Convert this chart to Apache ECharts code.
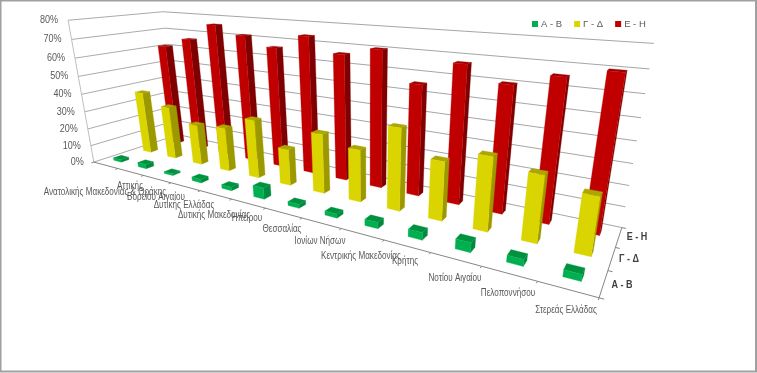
<!DOCTYPE html>
<html><head><meta charset="utf-8">
<style>html,body{margin:0;padding:0;background:#fff}#c{width:757px;height:373px}</style>
<script src="https://cdn.jsdelivr.net/npm/echarts@6/dist/echarts.min.js"></script>
</head><body><div id="c"></div>
<script>
const categories = ['Αττικής','Ανατολικής Μακεδονίας & Θράκης','Βορείου Αιγαίου','Δυτικής Ελλάδας','Δυτικής Μακεδονίας','Ηπείρου','Θεσσαλίας','Ιονίων Νήσων','Κεντρικής Μακεδονίας','Κρήτης','Νοτίου Αιγαίου','Πελοποννήσου','Στερεάς Ελλάδας'];
const seriesNames = ['Α - Β','Γ - Δ','Ε - Η'];
const valuesAB = [1.5,2.5,1,2,2,6,2,2,3,3.5,4.5,3,3];
const valuesGD = [36.5,30.5,23,24.5,32,19.5,31,26.5,40.5,28.5,34.5,30.5,26];
const valuesEH = [61,66.5,76,71.5,66.5,74,66.5,70.5,56,67.5,60.5,66,70];
const valueTicks = [0,10,20,30,40,50,60,70,80];

// layout
const labelCentres = [[130,186],[105,192],[156,197],[184,205],[214,215],[247,218],[282,229],[320,241],[361,256],[405,261],[455,278],[508,293],[566,310]];
const depthLabelCentres = [[622,285],[629,259],[637,237]];
const colours = [
 {front:'#00B050',side:'#008A3E',top:'#00913F'},
 {front:'#DAD500',side:'#9C9800',top:'#ABA600'},
 {front:'#C00000',side:'#7F0000',top:'#A00000'}];
const calib = [
 [0,0,0,94,161],[1,0,0,599,299],[1,1,0,622,227],[0,1,0,178,136],
 [0,0,1,68,21],[1,1,1,654,44],[0,1,1,163,11],[0,0,.5,81.5,94],[1,1,.5,637,141.3],[1,1,.25,629,184.3]];
const barW = 0.31, barD = 0.25;
const FONT = '"Liberation Sans"';

function solve(A,b){const n=b.length;for(let i=0;i<n;i++){let p=i;for(let r=i+1;r<n;r++)if(Math.abs(A[r][i])>Math.abs(A[p][i]))p=r;[A[i],A[p]]=[A[p],A[i]];[b[i],b[p]]=[b[p],b[i]];for(let r=i+1;r<n;r++){const f=A[r][i]/A[i][i];for(let c=i;c<n;c++)A[r][c]-=f*A[i][c];b[r]-=f*b[i];}}
 const x=new Array(n);for(let i=n-1;i>=0;i--){let s=b[i];for(let c=i+1;c<n;c++)s-=A[i][c]*x[c];x[i]=s/A[i][i];}return x;}
function fit(){const S=500,rows=[],rhs=[];calib.forEach(([u,v,w,px,py])=>{const X=px/S,Y=py/S;
 rows.push([u,v,w,1,0,0,0,0,-X*u,-X*v,-X*w]);rhs.push(X);rows.push([0,0,0,0,u,v,w,1,-Y*u,-Y*v,-Y*w]);rhs.push(Y);});
 const n=11,A=Array.from({length:n},()=>new Array(n).fill(0)),b=new Array(n).fill(0);
 rows.forEach((r,k)=>{for(let i=0;i<n;i++){b[i]+=r[i]*rhs[k];for(let j=0;j<n;j++)A[i][j]+=r[i]*r[j];}});
 const h=solve(A,b);return {h,S};}
const P=fit();
function proj(u,v,w){const h=P.h,d=h[8]*u+h[9]*v+h[10]*w+1;return [P.S*(h[0]*u+h[1]*v+h[2]*w+h[3])/d,P.S*(h[4]*u+h[5]*v+h[6]*w+h[7])/d];}

const gridBox = {left:100,top:50,width:520,height:240};
const n = categories.length;
function unit(api,i,val){const c=api.coord([i,val]);return [(c[0]-gridBox.left)/gridBox.width,(gridBox.top+gridBox.height-c[1])/gridBox.height];}

function barItem(depth){return function(params,api){
 const i=api.value(0),val=api.value(1);
 const [uc,w]=unit(api,i,val);
 const hw=barW/n/2,hd=barD/3/2,vc=(depth+.5)/3;
 const u0=uc-hw,u1=uc+hw,v0=vc-hd,v1=vc+hd;
 const col=colours[depth];
 const face=(pts,c)=>({type:'polygon',shape:{points:pts},style:{fill:c,stroke:c,lineWidth:.3}});
 return {type:'group',children:[
  face([proj(u1,v0,0),proj(u1,v1,0),proj(u1,v1,w),proj(u1,v0,w)],col.side),
  face([proj(u0,v0,w),proj(u1,v0,w),proj(u1,v1,w),proj(u0,v1,w)],col.top),
  face([proj(u0,v0,0),proj(u1,v0,0),proj(u1,v0,w),proj(u0,v0,w)],col.front)
 ]};};}
const valueSeriesData=[valuesAB,valuesGD,valuesEH];

const line=(a,b,c,lw)=>({type:'line',shape:{x1:a[0],y1:a[1],x2:b[0],y2:b[1]},style:{stroke:c,lineWidth:lw||1}});
const squeezed=(text,x,y,align,fill,font,sx)=>({type:'text',x:x,y:y,scaleX:sx,style:{text:text,x:0,y:0,align:align,verticalAlign:'middle',fill:fill,font:font}});
function frameItem(params,api){
 const t=api.value(1);
 const [,w]=unit(api,0,t);
 const kids=[line(proj(0,0,w),proj(0,1,w),'#ABABAB'),line(proj(0,1,w),proj(1,1,w),'#A6A6A6')];
 const p=proj(0,0,w);
 kids.push(squeezed(t+'%',p[0]-10,p[1],'right','#595959','11px '+FONT,.82));
 return {type:'group',children:kids};}
function floorItem(params,api){
 const kids=[line(proj(0,0,0),proj(0,0,1),'#BFBFBF'),line(proj(0,0,0),proj(1,0,0),'#868686'),line(proj(1,0,0),proj(1,1,0),'#868686')];
 for(let i=0;i<=n;i++){const a=proj(i/n,0,0),b=proj(i/n,-0.025,0);kids.push(line(a,b,'#868686'));}
 for(let j=0;j<=3;j++){const a=proj(1,j/3,0),b=proj(1.006,j/3,0);kids.push(line(a,b,'#868686'));}
 categories.forEach((c,i)=>kids.push(squeezed(c,labelCentres[i][0],labelCentres[i][1],'center','#595959','10px '+FONT,.81)));
 seriesNames.forEach((c,i)=>kids.push(squeezed(c,depthLabelCentres[i][0],depthLabelCentres[i][1],'center','#404040','bold 11px '+FONT,.82)));
 return {type:'group',children:kids};}

const chart=echarts.init(document.getElementById('c'),null,{renderer:'canvas'});
chart.setOption({
 animation:false,
 backgroundColor:'#fff',
 graphic:[{type:'rect',shape:{x:.5,y:.5,width:755.5,height:371},style:{fill:'none',stroke:'#A0A0A0',lineWidth:2},silent:true}],
 grid:{...gridBox,show:false},
 xAxis:{type:'category',data:categories,show:false},
 yAxis:{type:'value',min:0,max:80,interval:10,show:false},
 legend:{left:527,top:14,itemWidth:6,itemHeight:6,itemGap:12,icon:'rect',data:seriesNames,textStyle:{color:'#595959',fontSize:9.5,fontFamily:'Liberation Sans',padding:[0,0,0,-2]},selectedMode:false},
 series:[
  {type:'custom',name:'frame',z:1,silent:true,clip:false,renderItem:frameItem,encode:{x:0,y:1},data:valueTicks.map(t=>[0,t])},
  {type:'custom',name:'floor',z:1,silent:true,clip:false,renderItem:floorItem,encode:{x:0,y:1},data:[[0,0]]},
  ...seriesNames.map((s,d)=>({type:'custom',name:s,z:5-d,silent:true,clip:false,itemStyle:{color:colours[d].front},renderItem:barItem(d),encode:{x:0,y:1},data:valueSeriesData[d].map((v,i)=>[i,v])}))
 ]
});
</script></body></html>
